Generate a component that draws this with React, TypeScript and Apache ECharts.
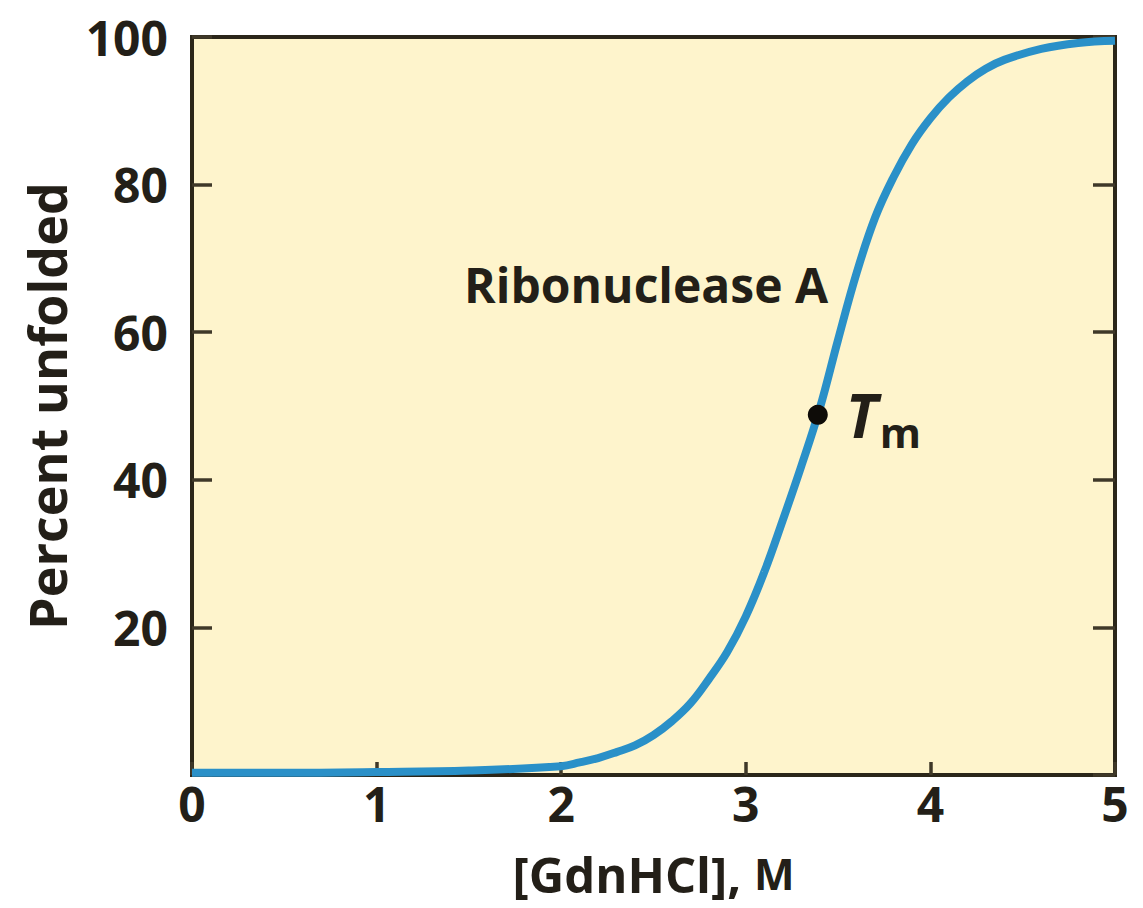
import React, { useEffect, useRef } from "react";
import * as echarts from "echarts";

const concentration = [0, 0.5, 1, 1.5, 2, 2.1, 2.2, 2.3, 2.4, 2.5, 2.6, 2.7, 2.8, 2.9, 3.0, 3.1, 3.2, 3.3, 3.4, 3.5, 3.6, 3.7, 3.8, 3.9, 4.0, 4.1, 4.2, 4.3, 4.4, 4.6, 4.8, 5.0];
const percentUnfolded = [0.3, 0.3, 0.4, 0.6, 1.2, 1.7, 2.3, 3.1, 4.0, 5.4, 7.3, 9.7, 13.0, 16.7, 21.5, 27.5, 34.5, 41.8, 49.6, 59, 68, 75.5, 81, 85.5, 89, 91.8, 94, 95.7, 96.9, 98.4, 99.2, 99.5];
const tmPoint = [3.39, 48.8];
const curveLabelPoint = [2.46, 66.4];
const xTicks = [0, 1, 2, 3, 4, 5];
const yTicks = [0, 20, 40, 60, 80, 100];

const FONT = "'Open Sans', 'Noto Sans', 'DejaVu Sans', sans-serif";
const INK = "#231f18";
const TICK = "#3f3828";

export default function App() {
  const ref = useRef<HTMLDivElement>(null);
  useEffect(() => {
    if (!ref.current) return;
    const chart = echarts.init(ref.current, null, { renderer: "svg" });
    const curve = concentration.map((x, i) => [x, percentUnfolded[i]]);
    chart.setOption({
      animation: false,
      grid: {
        left: 192,
        top: 37,
        right: 28,
        bottom: 133,
        show: true,
        backgroundColor: "#fef4cc",
        borderColor: "#2b2619",
        borderWidth: 4,
      },
      xAxis: {
        type: "value",
        min: xTicks[0],
        max: xTicks[xTicks.length - 1],
        interval: 1,
        name: "{a|[GdnHCl], }{b|M}",
        nameLocation: "middle",
        nameGap: 74,
        nameTextStyle: {
          rich: {
            a: { fontFamily: FONT, fontWeight: "bold", fontSize: 49, color: INK },
            b: { fontFamily: FONT, fontWeight: "bold", fontSize: 43, color: INK },
          },
        },
        axisLine: { show: false },
        splitLine: { show: false },
        axisTick: { show: true, inside: true, length: 13, lineStyle: { color: TICK, width: 3.5 } },
        axisLabel: {
          margin: 4,
          fontFamily: FONT,
          fontWeight: "bold",
          fontSize: 48,
          color: INK,
        },
      },
      yAxis: [
        {
          type: "value",
          min: yTicks[0],
          max: yTicks[yTicks.length - 1],
          interval: 20,
          name: "Percent unfolded",
          nameLocation: "middle",
          nameRotate: 90,
          nameGap: 120,
          nameTextStyle: { fontFamily: FONT, fontWeight: "bold", fontSize: 52, color: INK },
          axisLine: { show: false },
          splitLine: { show: false },
          axisTick: { show: true, inside: true, length: 20, lineStyle: { color: TICK, width: 3.5 } },
          axisLabel: {
            margin: 24,
            fontFamily: FONT,
            fontWeight: "bold",
            fontSize: 48,
            color: INK,
            formatter: (v: number) => (v === 0 ? "" : String(v)),
            padding: [0, 0, 10, 0],
          },
        },
        {
          type: "value",
          position: "right",
          min: yTicks[0],
          max: yTicks[yTicks.length - 1],
          interval: 20,
          axisLine: { show: false },
          splitLine: { show: false },
          axisTick: { show: true, inside: true, length: 22, lineStyle: { color: TICK, width: 3.5 } },
          axisLabel: { show: false },
        },
      ],
      series: [
        {
          type: "line",
          data: curve,
          smooth: 0.4,
          showSymbol: false,
          clip: false,
          lineStyle: { color: "#2a90c8", width: 8 },
          z: 3,
        },
        {
          type: "scatter",
          data: [tmPoint],
          symbolSize: 20,
          itemStyle: { color: "#0e0c08", opacity: 1 },
          z: 4,
          label: {
            show: true,
            position: "right",
            distance: 18,
            opacity: 1,
            formatter: "{t|T}{m|m}",
            rich: {
              t: { fontFamily: FONT, fontWeight: "bold", fontStyle: "italic", fontSize: 60, color: INK },
              m: { fontFamily: FONT, fontWeight: "bold", fontSize: 42, color: INK, padding: [34, 0, 0, 2] },
            },
          },
        },
        {
          type: "scatter",
          data: [curveLabelPoint],
          symbolSize: 0,
          silent: true,
          itemStyle: { opacity: 1 },
          z: 4,
          label: {
            show: true,
            position: "inside",
            opacity: 1,
            formatter: "Ribonuclease A",
            fontFamily: FONT,
            fontWeight: "bold",
            fontSize: 48,
            color: INK,
          },
        },
      ],
    });
    return () => chart.dispose();
  }, []);
  return (
    <div
      ref={ref}
      style={{ position: "fixed", left: 0, top: 0, width: 1143, height: 908, background: "#fff" }}
    />
  );
}
